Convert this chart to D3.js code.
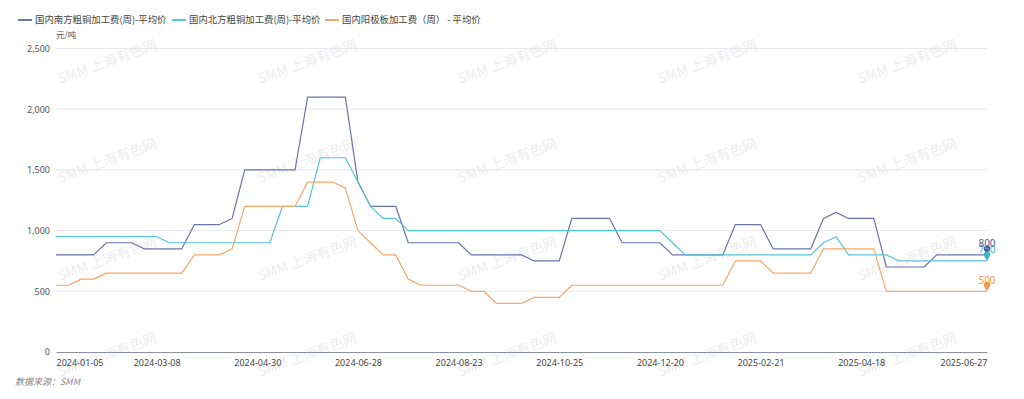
<!DOCTYPE html>
<html>
<head>
<meta charset="utf-8">
<script src="https://cdn.jsdelivr.net/npm/d3@7"></script>
<style>
  body { margin: 0; background: #fff; }
  svg { display: block; font-family: "Noto Sans CJK SC", "Noto Sans", sans-serif; }
</style>
</head>
<body>
<svg id="chart" width="1024" height="399"></svg>
<script>
// weekly dates (holiday weeks skipped)
let dates = [
  '2024-01-05', '2024-01-12', '2024-01-19', '2024-01-26', '2024-02-02', '2024-02-08', '2024-02-23', '2024-03-01',
  '2024-03-08', '2024-03-15', '2024-03-22', '2024-03-29', '2024-04-03', '2024-04-12', '2024-04-19', '2024-04-26',
  '2024-04-30', '2024-05-10', '2024-05-17', '2024-05-24', '2024-05-31', '2024-06-07', '2024-06-14', '2024-06-21',
  '2024-06-28', '2024-07-05', '2024-07-12', '2024-07-19', '2024-07-26', '2024-08-02', '2024-08-09', '2024-08-16',
  '2024-08-23', '2024-08-30', '2024-09-06', '2024-09-13', '2024-09-20', '2024-09-27', '2024-10-11', '2024-10-18',
  '2024-10-25', '2024-11-01', '2024-11-08', '2024-11-15', '2024-11-22', '2024-11-29', '2024-12-06', '2024-12-13',
  '2024-12-20', '2024-12-27', '2025-01-03', '2025-01-10', '2025-01-17', '2025-01-24', '2025-02-07', '2025-02-14',
  '2025-02-21', '2025-02-28', '2025-03-07', '2025-03-14', '2025-03-21', '2025-03-28', '2025-04-03', '2025-04-11',
  '2025-04-18', '2025-04-25', '2025-04-30', '2025-05-09', '2025-05-16', '2025-05-23', '2025-05-30', '2025-06-06',
  '2025-06-13', '2025-06-20', '2025-06-27'
];

let south = [
  800, 800, 800, 800, 900, 900, 900, 850, 850, 850, 850, 1050, 1050, 1050, 1100,
  1500, 1500, 1500, 1500, 1500, 2100, 2100, 2100, 2100, 1400, 1200, 1200, 1200,
  900, 900, 900, 900, 900, 800, 800, 800, 800, 800, 750, 750, 750,
  1100, 1100, 1100, 1100, 900, 900, 900, 900, 800, 800, 800, 800, 800,
  1050, 1050, 1050, 850, 850, 850, 850, 1100, 1150, 1100, 1100, 1100,
  700, 700, 700, 700, 800, 800, 800, 800, 800
];

let north = [
  950, 950, 950, 950, 950, 950, 950, 950, 950,
  900, 900, 900, 900, 900, 900, 900, 900, 900,
  1200, 1200, 1200, 1600, 1600, 1600, 1400, 1200, 1100, 1100,
  1000, 1000, 1000, 1000, 1000, 1000, 1000, 1000, 1000, 1000, 1000,
  1000, 1000, 1000, 1000, 1000, 1000, 1000, 1000, 1000, 1000,
  900, 800, 800, 800, 800, 800, 800, 800, 800, 800, 800, 800,
  900, 950, 800, 800, 800, 800,
  750, 750, 750, 750, 750, 750, 750, 750
];

let anode = [
  550, 550, 600, 600, 650, 650, 650, 650, 650, 650, 650, 800, 800, 800, 850,
  1200, 1200, 1200, 1200, 1200, 1400, 1400, 1400, 1350, 1000, 900, 800, 800,
  600, 550, 550, 550, 550, 500, 500, 400, 400, 400, 450, 450, 450,
  550, 550, 550, 550, 550, 550, 550, 550, 550, 550, 550, 550, 550,
  750, 750, 750, 650, 650, 650, 650, 850, 850, 850, 850, 850,
  500, 500, 500, 500, 500, 500, 500, 500, 500
];

let seriesNames = ['国内南方粗铜加工费(周)-平均价', '国内北方粗铜加工费(周)-平均价', '国内阳极板加工费（周） - 平均价'];
let seriesColors = ['#6d72ad', '#58c4d4', '#f5a869'];
let labelColors = ['#50559a', '#3fb3c6', '#f0994f'];
let yTicks = [0, 500, 1000, 1500, 2000, 2500];
let xLabelIndex = [0, 8, 16, 24, 32, 40, 48, 56, 64, 74];

let allSeries = [south, north, anode];

let svg = d3.select('#chart');
let plotLeft = 56, plotRight = 987, plotTop = 48.5, plotBottom = 352;

// watermark
let wm = svg.append('g');
[60, 260, 460, 660, 860].forEach(function (wx) {
  [84, 183, 281, 377].forEach(function (wy) {
    wm.append('text')
      .attr('transform', 'translate(' + wx + ',' + wy + ') rotate(-20)')
      .attr('font-size', 14)
      .attr('fill', '#eeeeee')
      .text('SMM 上海有色网');
  });
});

let x = d3.scalePoint()
  .domain(d3.range(dates.length))
  .range([plotLeft, plotRight]);

let y = d3.scaleLinear()
  .domain([0, 2500])
  .range([plotBottom, plotTop]);

// grid
svg.append('g')
  .selectAll('line')
  .data(yTicks.slice(1))
  .enter().append('line')
  .attr('x1', plotLeft)
  .attr('x2', plotRight)
  .attr('y1', function (d) { return y(d); })
  .attr('y2', function (d) { return y(d); })
  .attr('stroke', '#e8e8ec')
  .attr('stroke-width', 1);

// y axis labels
let yAxis = svg.append('g')
  .attr('transform', 'translate(' + plotLeft + ',0)')
  .call(d3.axisLeft(y).tickValues(yTicks).tickFormat(d3.format(',')).tickSize(0).tickPadding(6));
yAxis.select('.domain').remove();
yAxis.selectAll('text')
  .attr('font-size', 9)
  .attr('fill', '#555')
  .attr('font-family', '"Noto Sans", sans-serif');

svg.append('text')
  .attr('x', plotLeft)
  .attr('y', 38)
  .attr('font-size', 8.5)
  .attr('fill', '#555')
  .text('元/吨');

// x axis
let xAxis = svg.append('g')
  .attr('transform', 'translate(0,' + plotBottom + ')')
  .call(d3.axisBottom(x).tickValues(xLabelIndex).tickFormat(function (i) { return dates[i]; }).tickSize(0).tickPadding(8));
xAxis.select('.domain')
  .attr('stroke', '#8c90a3')
  .attr('stroke-width', 1.2);
xAxis.selectAll('text')
  .attr('font-size', 9)
  .attr('fill', '#444')
  .attr('font-family', '"Noto Sans", sans-serif')
  .attr('text-anchor', function (i) { return i === 0 ? 'start' : (i === dates.length - 1 ? 'end' : 'middle'); });

// lines
let line = d3.line()
  .x(function (d, i) { return x(i); })
  .y(function (d) { return y(d); });

svg.append('g')
  .selectAll('path')
  .data(allSeries)
  .enter().append('path')
  .attr('d', line)
  .attr('fill', 'none')
  .attr('stroke', function (d, i) { return seriesColors[i]; })
  .attr('stroke-width', 1.2)
  .attr('stroke-linejoin', 'round');

// end pins + labels
let last = dates.length - 1;
let ends = svg.append('g')
  .selectAll('g')
  .data(allSeries)
  .enter().append('g')
  .attr('transform', function (d) { return 'translate(' + x(last) + ',' + y(d[last]) + ')'; });

ends.append('path')
  .attr('d', 'M0,0 L-2.6,-4.5 A3.2,3.2 0 1 1 2.6,-4.5 Z')
  .attr('fill', function (d, i) { return labelColors[i]; });

ends.append('text')
  .attr('y', -7.5)
  .attr('text-anchor', 'middle')
  .attr('font-size', 10)
  .attr('font-family', '"Noto Sans", sans-serif')
  .attr('fill', function (d, i) { return labelColors[i]; })
  .text(function (d) { return d[last]; });

// legend
let legendX = [18, 172, 325];
let legend = svg.append('g')
  .selectAll('g')
  .data(seriesNames)
  .enter().append('g')
  .attr('transform', function (d, i) { return 'translate(' + legendX[i] + ',20)'; });

legend.append('line')
  .attr('x1', 0)
  .attr('x2', 14)
  .attr('stroke', function (d, i) { return seriesColors[i]; })
  .attr('stroke-width', 2);

legend.append('text')
  .attr('x', 17)
  .attr('dy', '0.35em')
  .attr('font-size', 9.4)
  .attr('fill', '#444')
  .text(function (d) { return d; });

// source
svg.append('text')
  .attr('x', 15)
  .attr('y', 385)
  .attr('font-size', 9)
  .attr('font-style', 'italic')
  .attr('fill', '#888')
  .text('数据来源：SMM');
</script>
</body>
</html>
